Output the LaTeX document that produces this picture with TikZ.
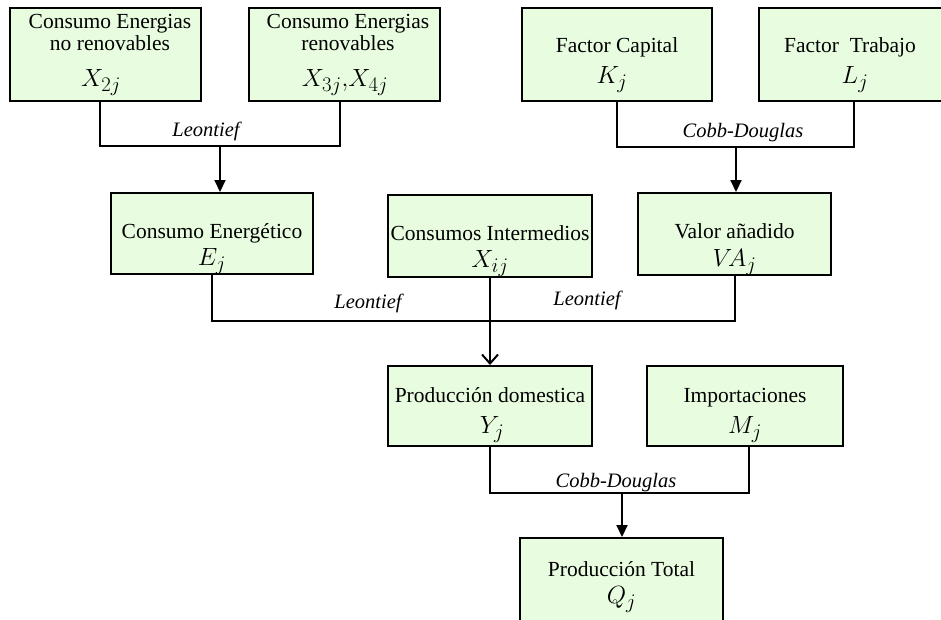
\documentclass[tikz,border=0pt]{standalone}
\usepackage{fontspec}
\setmainfont{Liberation Serif}
\usetikzlibrary{arrows.meta}
\definecolor{boxgreen}{RGB}{232,252,224}
\begin{document}
\begin{tikzpicture}[x=1pt,y=-1pt,
  box/.style={draw=black,line width=2pt,fill=boxgreen,inner sep=0pt},
  txt/.style={anchor=base,inner sep=0pt,font=\fontsize{21.5}{26}\selectfont},
  mth/.style={anchor=base,inner sep=0pt,font=\fontsize{29}{34}\selectfont},
  lab/.style={inner sep=0pt,font=\fontsize{20.5}{25}\selectfont\itshape},
  conn/.style={line width=2pt},
  farrow/.style={conn,-{Triangle[length=12pt,width=11pt]}},
  oarrow/.style={conn,-{Straight Barb[length=9pt,width=16pt]}}]
\clip (0,0) rectangle (941,619);
\fill[white] (0,0) rectangle (941,619);

% boxes
\node[box,minimum width=191pt,minimum height=93pt] (b1) at (105.5,54.5) {};
\node[box,minimum width=191pt,minimum height=93pt] (b2) at (344.5,54.5) {};
\node[box,minimum width=190pt,minimum height=93pt] (b6) at (617,54.5) {};
\node[box,minimum width=190pt,minimum height=93pt] (b7) at (854,54.5) {};
\node[box,minimum width=202pt,minimum height=81pt] (b3) at (212,233.5) {};
\node[box,minimum width=204pt,minimum height=82pt] (b4) at (490,236) {};
\node[box,minimum width=193pt,minimum height=82pt] (b5) at (734.5,234) {};
\node[box,minimum width=204pt,minimum height=80pt] (b8) at (490,406) {};
\node[box,minimum width=196pt,minimum height=80pt] (b9) at (745,406) {};
\node[box,minimum width=203pt,minimum height=102pt] (b10) at (621.5,589) {};

% texts
\node[txt] (t1a) at (110,28) {Consumo Energias};
\node[txt] (t1b) at (110,50) {no renovables};
\node[mth] (m1) at (101,86) {$X_{2j}$};
\node[txt] (t2a) at (348,28) {Consumo Energias};
\node[txt] (t2b) at (348,50) {renovables};
\node[mth] (m2) at (345,86) {$X_{3j}{,}X_{4j}$};
\node[txt] (t6) at (617,52) {Factor Capital};
\node[mth] (m6) at (612,83) {$K_j$};
\node[txt] (t7) at (850,52) {Factor\ \ Trabajo};
\node[mth] (m7) at (855,83) {$L_j$};
\node[txt] (t3) at (212,238) {Consumo Energético};
\node[mth] (m3) at (212,265) {$E_j$};
\node[txt] (t4) at (490,240) {Consumos Intermedios};
\node[mth] (m4) at (490,267) {$X_{ij}$};
\node[txt] (t5) at (734.5,238) {Valor añadido};
\node[mth] (m5) at (734.5,266) {$V\!A_j$};
\node[txt] (t8) at (490,402) {Producción domestica};
\node[mth] (m8) at (492,433) {$Y_j$};
\node[txt] (t9) at (745,402) {Importaciones};
\node[mth] (m9) at (745,433) {$M_j$};
\node[txt] (t10) at (621.5,576) {Producción Total};
\node[mth] (m10) at (621.5,603) {$Q_j$};

% junctions
\coordinate (j1) at (220,146);
\coordinate (j2) at (736,147);
\coordinate (j3) at (490,321);
\coordinate (j4) at (622,493);

% connectors
\draw[conn] ([xshift=-5.5pt]b1.south) |- (j1) -| ([xshift=-4.5pt]b2.south);
\draw[farrow] (j1) -- (j1 |- b3.north);
\draw[conn] (b6.south) |- (j2) -| (b7.south);
\draw[farrow] (j2) -- (j2 |- b5.north);
\draw[conn] (b3.south) |- (j3) -| (b5.south);
\draw[oarrow] (b4.south) -- (b8.north);
\draw[conn] (b8.south) |- (j4) -| ([xshift=4pt]b9.south);
\draw[farrow] (j4) -- (j4 |- b10.north);

% labels
\node[lab] (l1) at (206,131) {Leontief};
\node[lab] (l2) at (743,133) {Cobb-Douglas};
\node[lab] (l3) at (368,303) {Leontief};
\node[lab] (l4) at (587,300) {Leontief};
\node[lab] (l5) at (616,483) {Cobb-Douglas};
\end{tikzpicture}
\end{document}
